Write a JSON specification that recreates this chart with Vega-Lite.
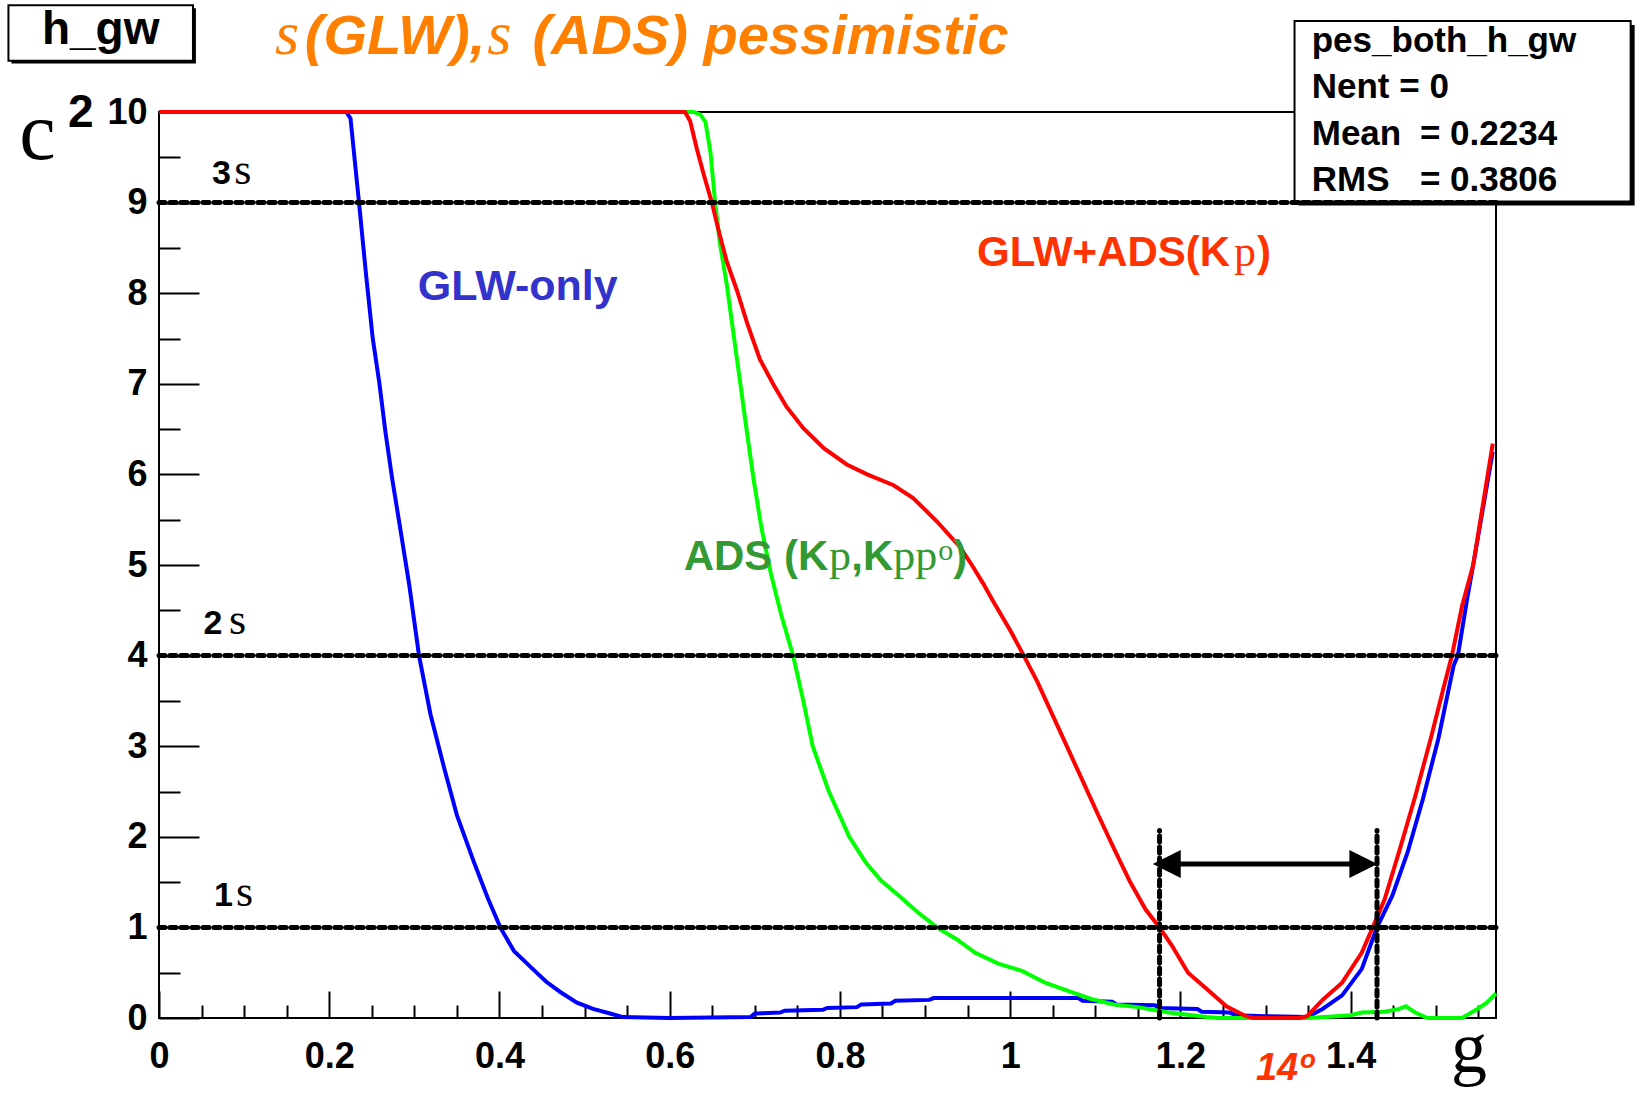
{
  "$schema": "https://vega.github.io/schema/vega-lite/v6.json",
  "width": 1337,
  "height": 906,
  "autosize": {"type": "none"},
  "padding": {"left": 159, "top": 112, "right": 141, "bottom": 83},
  "background": "white",
  "config": {
    "view": {"stroke": "black", "strokeWidth": 2},
    "axis": {"labelFont": "Liberation Sans", "labelFontWeight": "bold", "labelColor": "black", "tickColor": "black", "grid": false, "domain": false, "title": null}
  },
  "resolve": {"axis": {"x": "independent", "y": "independent"}},
  "datasets": {
    "blue": [
      {"x": 0, "y": 10}, {"x": 0.22, "y": 10}, {"x": 0.225, "y": 9.93}, {"x": 0.235, "y": 9.0}, {"x": 0.243, "y": 8.23},
      {"x": 0.251, "y": 7.51}, {"x": 0.259, "y": 7.0}, {"x": 0.266, "y": 6.47}, {"x": 0.274, "y": 5.95}, {"x": 0.284, "y": 5.37},
      {"x": 0.294, "y": 4.78}, {"x": 0.3055, "y": 4.0}, {"x": 0.319, "y": 3.35}, {"x": 0.335, "y": 2.76}, {"x": 0.35, "y": 2.24},
      {"x": 0.37, "y": 1.72}, {"x": 0.386, "y": 1.33}, {"x": 0.401, "y": 1.0}, {"x": 0.417, "y": 0.74}, {"x": 0.438, "y": 0.55},
      {"x": 0.455, "y": 0.4}, {"x": 0.471, "y": 0.29}, {"x": 0.491, "y": 0.17}, {"x": 0.51, "y": 0.1}, {"x": 0.53, "y": 0.05},
      {"x": 0.545, "y": 0.01}, {"x": 0.6, "y": 0.0}, {"x": 0.695, "y": 0.01}, {"x": 0.7, "y": 0.05}, {"x": 0.73, "y": 0.06},
      {"x": 0.735, "y": 0.08}, {"x": 0.78, "y": 0.09}, {"x": 0.785, "y": 0.11}, {"x": 0.82, "y": 0.12}, {"x": 0.825, "y": 0.15},
      {"x": 0.86, "y": 0.16}, {"x": 0.865, "y": 0.19}, {"x": 0.905, "y": 0.2}, {"x": 0.91, "y": 0.22}, {"x": 1.08, "y": 0.22},
      {"x": 1.085, "y": 0.19}, {"x": 1.12, "y": 0.18}, {"x": 1.125, "y": 0.15}, {"x": 1.17, "y": 0.14}, {"x": 1.175, "y": 0.11},
      {"x": 1.22, "y": 0.1}, {"x": 1.225, "y": 0.07}, {"x": 1.258, "y": 0.06}, {"x": 1.265, "y": 0.03}, {"x": 1.3, "y": 0.02},
      {"x": 1.349, "y": 0.01}, {"x": 1.367, "y": 0.1}, {"x": 1.39, "y": 0.25}, {"x": 1.413, "y": 0.54}, {"x": 1.431, "y": 1.0},
      {"x": 1.449, "y": 1.35}, {"x": 1.467, "y": 1.83}, {"x": 1.485, "y": 2.42}, {"x": 1.503, "y": 3.08}, {"x": 1.521, "y": 3.89},
      {"x": 1.526, "y": 4.0}, {"x": 1.537, "y": 4.63}, {"x": 1.544, "y": 5.0}, {"x": 1.555, "y": 5.6}, {"x": 1.567, "y": 6.25}
    ],
    "green": [
      {"x": 0, "y": 10}, {"x": 0.628, "y": 10}, {"x": 0.636, "y": 9.97}, {"x": 0.642, "y": 9.89}, {"x": 0.648, "y": 9.55},
      {"x": 0.6534, "y": 9.0}, {"x": 0.659, "y": 8.55}, {"x": 0.667, "y": 8.1}, {"x": 0.675, "y": 7.55}, {"x": 0.683, "y": 7.0},
      {"x": 0.691, "y": 6.45}, {"x": 0.699, "y": 5.92}, {"x": 0.708, "y": 5.4}, {"x": 0.719, "y": 4.9}, {"x": 0.731, "y": 4.45},
      {"x": 0.745, "y": 4.0}, {"x": 0.757, "y": 3.5}, {"x": 0.768, "y": 3.0}, {"x": 0.787, "y": 2.5}, {"x": 0.811, "y": 2.0},
      {"x": 0.83, "y": 1.72}, {"x": 0.848, "y": 1.52}, {"x": 0.868, "y": 1.36}, {"x": 0.891, "y": 1.17}, {"x": 0.914, "y": 1.0},
      {"x": 0.937, "y": 0.87}, {"x": 0.959, "y": 0.72}, {"x": 0.986, "y": 0.6}, {"x": 1.014, "y": 0.52}, {"x": 1.041, "y": 0.39},
      {"x": 1.068, "y": 0.3}, {"x": 1.095, "y": 0.21}, {"x": 1.122, "y": 0.15}, {"x": 1.15, "y": 0.12}, {"x": 1.186, "y": 0.06},
      {"x": 1.231, "y": 0.01}, {"x": 1.245, "y": 0.0}, {"x": 1.35, "y": 0.0}, {"x": 1.37, "y": 0.01}, {"x": 1.4, "y": 0.03},
      {"x": 1.413, "y": 0.06}, {"x": 1.44, "y": 0.07}, {"x": 1.457, "y": 0.1}, {"x": 1.465, "y": 0.13}, {"x": 1.476, "y": 0.06},
      {"x": 1.49, "y": 0.0}, {"x": 1.531, "y": 0.0}, {"x": 1.549, "y": 0.1}, {"x": 1.56, "y": 0.17}, {"x": 1.5708, "y": 0.27}
    ],
    "red": [
      {"x": 0, "y": 10}, {"x": 0.618, "y": 10}, {"x": 0.624, "y": 9.9}, {"x": 0.632, "y": 9.59}, {"x": 0.64, "y": 9.31},
      {"x": 0.6495, "y": 9.0}, {"x": 0.657, "y": 8.71}, {"x": 0.667, "y": 8.35}, {"x": 0.679, "y": 8.03}, {"x": 0.691, "y": 7.67},
      {"x": 0.706, "y": 7.27}, {"x": 0.722, "y": 6.99}, {"x": 0.737, "y": 6.75}, {"x": 0.757, "y": 6.51}, {"x": 0.781, "y": 6.29},
      {"x": 0.808, "y": 6.11}, {"x": 0.832, "y": 6.0}, {"x": 0.863, "y": 5.88}, {"x": 0.886, "y": 5.74}, {"x": 0.914, "y": 5.48},
      {"x": 0.941, "y": 5.2}, {"x": 0.955, "y": 5.0}, {"x": 0.968, "y": 4.8}, {"x": 0.98, "y": 4.6}, {"x": 1.0, "y": 4.28},
      {"x": 1.016, "y": 4.0}, {"x": 1.032, "y": 3.71}, {"x": 1.05, "y": 3.34}, {"x": 1.068, "y": 2.97}, {"x": 1.086, "y": 2.6},
      {"x": 1.104, "y": 2.23}, {"x": 1.122, "y": 1.87}, {"x": 1.141, "y": 1.5}, {"x": 1.159, "y": 1.2}, {"x": 1.1755, "y": 1.0},
      {"x": 1.19, "y": 0.8}, {"x": 1.209, "y": 0.5}, {"x": 1.231, "y": 0.32}, {"x": 1.254, "y": 0.13}, {"x": 1.277, "y": 0.02},
      {"x": 1.286, "y": 0.0}, {"x": 1.34, "y": 0.0}, {"x": 1.349, "y": 0.02}, {"x": 1.367, "y": 0.2}, {"x": 1.39, "y": 0.39},
      {"x": 1.413, "y": 0.72}, {"x": 1.426, "y": 1.0}, {"x": 1.44, "y": 1.31}, {"x": 1.458, "y": 1.87}, {"x": 1.476, "y": 2.45},
      {"x": 1.494, "y": 3.08}, {"x": 1.508, "y": 3.6}, {"x": 1.519, "y": 4.0}, {"x": 1.531, "y": 4.55}, {"x": 1.544, "y": 5.0},
      {"x": 1.556, "y": 5.7}, {"x": 1.567, "y": 6.34}
    ],
    "hlines": [{"x": 0, "x2": 1.5708, "y": 1}, {"x": 0, "x2": 1.5708, "y": 4}, {"x": 0, "x2": 1.5708, "y": 9}],
    "vlines": [{"x": 1.1755, "y": 0, "y2": 2.07}, {"x": 1.431, "y": 0, "y2": 2.07}],
    "arrow": [{"x": 1.19, "x2": 1.41, "y": 1.7}],
    "arrow_left": [{"x": 1.184, "y": 1.7}],
    "arrow_right": [{"x": 1.415, "y": 1.7}],
    "box_hgw_shadow": [{"x": -0.1734, "x2": 0.0434, "y": 11.146, "y2": 10.534}],
    "box_hgw": [{"x": -0.1769, "x2": 0.0399, "y": 11.179, "y2": 10.567}],
    "box_stats_shadow": [{"x": 1.3388, "x2": 1.7337, "y": 10.961, "y2": 8.968}],
    "box_stats": [{"x": 1.3341, "x2": 1.729, "y": 11.005, "y2": 9.012}],
    "name_hgw": [{"x": -0.0685, "y": 10.75, "text": "h_gw"}],
    "stats_text": [
      {"x": 1.3543, "y": 10.665, "text": "pes_both_h_gw"},
      {"x": 1.3543, "y": 10.151, "text": "Nent = 0"},
      {"x": 1.3543, "y": 9.636, "text": "Mean"},
      {"x": 1.4814, "y": 9.636, "text": "= 0.2234"},
      {"x": 1.3543, "y": 9.128, "text": "RMS"},
      {"x": 1.4814, "y": 9.128, "text": "= 0.3806"}
    ],
    "title_text": [{"x": 0.1713, "y": 10.64, "text": "(GLW),"}, {"x": 0.4387, "y": 10.64, "text": "(ADS) pessimistic"}],
    "title_sigma": [{"x": 0.1363, "y": 10.64, "text": "s"}, {"x": 0.3857, "y": 10.64, "text": "s"}],
    "label_glw": [{"x": 0.3041, "y": 7.93, "text": "GLW-only"}],
    "label_both": [{"x": 0.961, "y": 8.3, "text": "GLW+ADS(K"}, {"x": 1.2899, "y": 8.3, "text": ")"}],
    "label_both_pi": [{"x": 1.2629, "y": 8.3, "text": "p"}],
    "label_ads": [{"x": 0.6164, "y": 4.95, "text": "ADS (K"}, {"x": 0.8133, "y": 4.95, "text": ",K"}, {"x": 0.9332, "y": 4.95, "text": ")"}],
    "label_ads_pi": [{"x": 0.7873, "y": 4.95, "text": "p"}, {"x": 0.8627, "y": 4.95, "text": "pp"}],
    "label_ads_zero": [{"x": 0.9155, "y": 5.06, "text": "o"}],
    "sigma_num": [{"x": 0.0623, "y": 9.2, "text": "3"}, {"x": 0.0524, "y": 4.24, "text": "2"}, {"x": 0.0646, "y": 1.24, "text": "1"}],
    "sigma_sym": [{"x": 0.0883, "y": 9.2, "text": "s"}, {"x": 0.0821, "y": 4.24, "text": "s"}, {"x": 0.0906, "y": 1.24, "text": "s"}],
    "ytitle_c": [{"x": -0.1641, "y": 9.485, "text": "c"}],
    "ytitle_2": [{"x": -0.1069, "y": 9.83, "text": "2"}],
    "xtitle_g": [{"x": 1.518, "y": -0.596, "text": "g"}],
    "angle_14": [{"x": 1.2888, "y": -0.684, "text": "14"}],
    "angle_deg": [{"x": 1.3405, "y": -0.552, "text": "o"}]
  },
  "encoding": {
    "x": {"field": "x", "type": "quantitative", "scale": {"domain": [0, 1.5708], "nice": false, "zero": false}, "axis": null},
    "y": {"field": "y", "type": "quantitative", "scale": {"domain": [0, 10], "nice": false, "zero": false}, "axis": null}
  },
  "layer": [
    {
      "data": {"name": "hlines"},
      "mark": {"type": "point", "opacity": 0},
      "encoding": {
        "x": {"field": "x", "type": "quantitative", "scale": {"domain": [0, 1.5708], "nice": false, "zero": false},
          "axis": {"orient": "bottom", "values": [0, 0.2, 0.4, 0.6, 0.8, 1, 1.2, 1.4], "format": "~g", "labelFontSize": 36, "tickSize": -27, "tickWidth": 2, "labelPadding": 48, "labelFlush": false, "labelOverlap": false}},
        "y": {"field": "y", "type": "quantitative", "scale": {"domain": [0, 10], "nice": false, "zero": false},
          "axis": {"orient": "left", "values": [0, 1, 2, 3, 4, 5, 6, 7, 8, 9, 10], "format": "d", "labelFontSize": 36, "tickSize": -40, "tickWidth": 2, "labelPadding": 52, "labelFlush": false, "labelOverlap": false}}
      }
    },
    {
      "data": {"name": "hlines"},
      "mark": {"type": "point", "opacity": 0},
      "encoding": {
        "x": {"field": "x", "type": "quantitative", "scale": {"domain": [0, 1.5708], "nice": false, "zero": false},
          "axis": {"orient": "bottom", "values": [0.05, 0.1, 0.15, 0.25, 0.3, 0.35, 0.45, 0.5, 0.55, 0.65, 0.7, 0.75, 0.85, 0.9, 0.95, 1.05, 1.1, 1.15, 1.25, 1.3, 1.35, 1.45, 1.5, 1.55], "labels": false, "tickSize": -13, "tickWidth": 2}},
        "y": {"field": "y", "type": "quantitative", "scale": {"domain": [0, 10], "nice": false, "zero": false},
          "axis": {"orient": "left", "values": [0.5, 1.5, 2.5, 3.5, 4.5, 5.5, 6.5, 7.5, 8.5, 9.5], "labels": false, "tickSize": -21, "tickWidth": 2}}
      }
    },
    {"data": {"name": "box_stats_shadow"}, "mark": {"type": "rect", "color": "black"}, "encoding": {"x2": {"field": "x2"}, "y2": {"field": "y2"}}},
    {"data": {"name": "box_stats"}, "mark": {"type": "rect", "fill": "white", "stroke": "black", "strokeWidth": 2}, "encoding": {"x2": {"field": "x2"}, "y2": {"field": "y2"}}},
    {"data": {"name": "box_hgw_shadow"}, "mark": {"type": "rect", "color": "black"}, "encoding": {"x2": {"field": "x2"}, "y2": {"field": "y2"}}},
    {"data": {"name": "box_hgw"}, "mark": {"type": "rect", "fill": "white", "stroke": "black", "strokeWidth": 2}, "encoding": {"x2": {"field": "x2"}, "y2": {"field": "y2"}}},
    {"data": {"name": "blue"}, "mark": {"type": "line", "color": "#0000ff", "strokeWidth": 4, "clip": false}},
    {"data": {"name": "green"}, "mark": {"type": "line", "color": "#00ff00", "strokeWidth": 4, "clip": false}},
    {"data": {"name": "red"}, "mark": {"type": "line", "color": "#ff0000", "strokeWidth": 4, "clip": false}},
    {"data": {"name": "hlines"}, "mark": {"type": "rule", "color": "black", "strokeWidth": 5, "strokeDash": [6, 5], "strokeCap": "round"}, "encoding": {"x2": {"field": "x2"}}},
    {"data": {"name": "vlines"}, "mark": {"type": "rule", "color": "black", "strokeWidth": 5, "strokeDash": [6, 5], "strokeCap": "round"}, "encoding": {"y2": {"field": "y2"}}},
    {"data": {"name": "arrow"}, "mark": {"type": "rule", "color": "black", "strokeWidth": 5}, "encoding": {"x2": {"field": "x2"}}},
    {"data": {"name": "arrow_left"}, "mark": {"type": "point", "shape": "M -1 0 L 1 -1 L 1 1 Z", "size": 784, "filled": true, "color": "black", "opacity": 1, "strokeWidth": 0}},
    {"data": {"name": "arrow_right"}, "mark": {"type": "point", "shape": "M 1 0 L -1 -1 L -1 1 Z", "size": 784, "filled": true, "color": "black", "opacity": 1, "strokeWidth": 0}},
    {"data": {"name": "name_hgw"}, "mark": {"type": "text", "font": "Liberation Sans", "fontWeight": "bold", "fontSize": 46, "color": "black", "align": "center", "baseline": "alphabetic"}, "encoding": {"text": {"field": "text"}}},
    {"data": {"name": "stats_text"}, "mark": {"type": "text", "font": "Liberation Sans", "fontWeight": "bold", "fontSize": 35, "color": "black", "align": "left", "baseline": "alphabetic"}, "encoding": {"text": {"field": "text"}}},
    {"data": {"name": "title_text"}, "mark": {"type": "text", "font": "Liberation Sans", "fontWeight": "bold", "fontStyle": "italic", "fontSize": 56, "color": "#ff8000", "align": "left", "baseline": "alphabetic"}, "encoding": {"text": {"field": "text"}}},
    {"data": {"name": "title_sigma"}, "mark": {"type": "text", "font": "Liberation Serif", "fontStyle": "italic", "fontSize": 62, "color": "#ff8000", "align": "left", "baseline": "alphabetic"}, "encoding": {"text": {"field": "text"}}},
    {"data": {"name": "label_glw"}, "mark": {"type": "text", "font": "Liberation Sans", "fontWeight": "bold", "fontSize": 43, "color": "#3333cc", "align": "left", "baseline": "alphabetic"}, "encoding": {"text": {"field": "text"}}},
    {"data": {"name": "label_both"}, "mark": {"type": "text", "font": "Liberation Sans", "fontWeight": "bold", "fontSize": 42, "color": "#ff3300", "align": "left", "baseline": "alphabetic"}, "encoding": {"text": {"field": "text"}}},
    {"data": {"name": "label_both_pi"}, "mark": {"type": "text", "font": "Liberation Serif", "fontSize": 44, "color": "#ff3300", "align": "left", "baseline": "alphabetic"}, "encoding": {"text": {"field": "text"}}},
    {"data": {"name": "label_ads"}, "mark": {"type": "text", "font": "Liberation Sans", "fontWeight": "bold", "fontSize": 42, "color": "#339933", "align": "left", "baseline": "alphabetic"}, "encoding": {"text": {"field": "text"}}},
    {"data": {"name": "label_ads_pi"}, "mark": {"type": "text", "font": "Liberation Serif", "fontSize": 44, "color": "#339933", "align": "left", "baseline": "alphabetic"}, "encoding": {"text": {"field": "text"}}},
    {"data": {"name": "label_ads_zero"}, "mark": {"type": "text", "font": "Liberation Serif", "fontSize": 30, "color": "#339933", "align": "left", "baseline": "alphabetic"}, "encoding": {"text": {"field": "text"}}},
    {"data": {"name": "sigma_num"}, "mark": {"type": "text", "font": "Liberation Sans", "fontWeight": "bold", "fontSize": 34, "color": "black", "align": "left", "baseline": "alphabetic"}, "encoding": {"text": {"field": "text"}}},
    {"data": {"name": "sigma_sym"}, "mark": {"type": "text", "font": "Liberation Serif", "fontSize": 44, "color": "black", "align": "left", "baseline": "alphabetic"}, "encoding": {"text": {"field": "text"}}},
    {"data": {"name": "ytitle_c"}, "mark": {"type": "text", "font": "Liberation Serif", "fontSize": 82, "color": "black", "align": "left", "baseline": "alphabetic"}, "encoding": {"text": {"field": "text"}}},
    {"data": {"name": "ytitle_2"}, "mark": {"type": "text", "font": "Liberation Sans", "fontWeight": "bold", "fontSize": 46, "color": "black", "align": "left", "baseline": "alphabetic"}, "encoding": {"text": {"field": "text"}}},
    {"data": {"name": "xtitle_g"}, "mark": {"type": "text", "font": "Liberation Serif", "fontSize": 72, "color": "black", "align": "left", "baseline": "alphabetic"}, "encoding": {"text": {"field": "text"}}},
    {"data": {"name": "angle_14"}, "mark": {"type": "text", "font": "Liberation Sans", "fontWeight": "bold", "fontStyle": "italic", "fontSize": 38, "color": "#ff3300", "align": "left", "baseline": "alphabetic"}, "encoding": {"text": {"field": "text"}}},
    {"data": {"name": "angle_deg"}, "mark": {"type": "text", "font": "Liberation Sans", "fontWeight": "bold", "fontStyle": "italic", "fontSize": 26, "color": "#ff3300", "align": "left", "baseline": "alphabetic"}, "encoding": {"text": {"field": "text"}}}
  ]
}
